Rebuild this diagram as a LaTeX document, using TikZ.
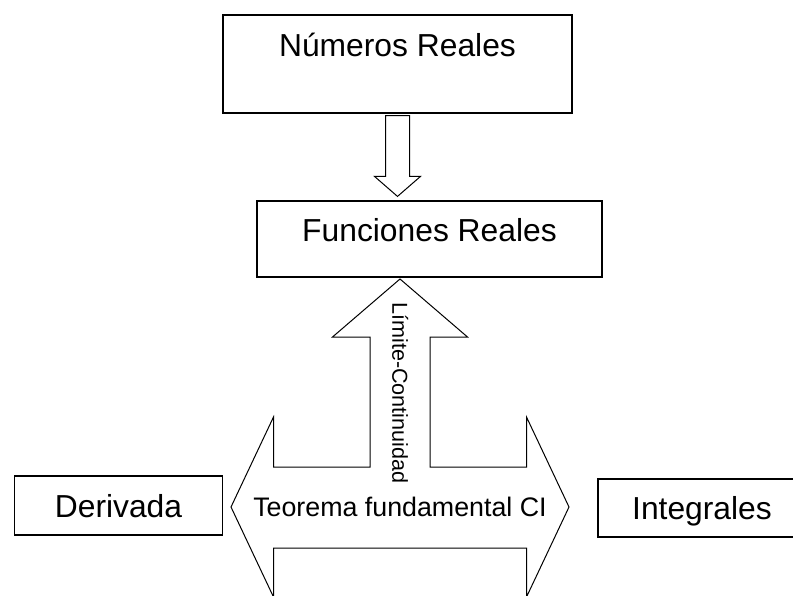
\documentclass[tikz,border=0pt]{standalone}
\usepackage{fontspec}
\setmainfont{Liberation Sans}
\usetikzlibrary{calc}

\begin{document}
\begin{tikzpicture}[
  x=1pt, y=-1pt,
  box/.style={draw, line width=1.2pt, inner sep=0pt, text height=23pt, text depth=0pt,
    font=\fontsize{31.8}{38}\selectfont},
  outline/.style={draw, line width=1pt, line join=miter},
  txt/.style={inner sep=0pt, text height=19pt, text depth=0pt, font=\fontsize{26.8}{32}\selectfont}
]
  \useasboundingbox (0,0) rectangle (793,595);
  \node[box, minimum width=349pt, minimum height=98pt, text depth=39pt] (nr) at (397.5,64) {Números Reales};
  \node[box, minimum width=345pt, minimum height=76pt, text depth=19pt] (fr) at (429.5,239) {Funciones Reales};
  \node[box, minimum width=208pt, minimum height=59pt] (der) at (118.5,505.5) {Derivada};
  \node[box, minimum width=208pt, minimum height=58pt] (intg) at (702,508) {Integrales};
  \node[txt] (tc) at (400,507) {Teorema fundamental CI};
  \node[txt, rotate=-90, text height=15.5pt, font=\fontsize{21.6}{26}\selectfont] (lc) at (400,393) {Límite-Continuidad};

  \coordinate (dtip) at ($(nr.south |- fr.north)+(0,-4)$);
  \draw[outline] ($(nr.south)+(-12,2)$) -- ($(dtip)+(-12,-20)$) -- ($(dtip)+(-23,-20)$) -- (dtip)
    -- ($(dtip)+(23,-20)$) -- ($(dtip)+(12,-20)$) -- ($(nr.south)+(12,2)$) -- cycle;

  \draw[outline, shift={(tc)}] (0,-228) -- (67.5,-170) -- (30,-170) -- (30,-40) -- (126.5,-40)
    -- (126.5,-90) -- (169,0) -- (126.5,90) -- (126.5,41) -- (-126.5,41) -- (-126.5,90)
    -- (-169,0) -- (-126.5,-90) -- (-126.5,-40) -- (-30,-40) -- (-30,-170) -- (-67.5,-170) -- cycle;
\end{tikzpicture}
\end{document}
